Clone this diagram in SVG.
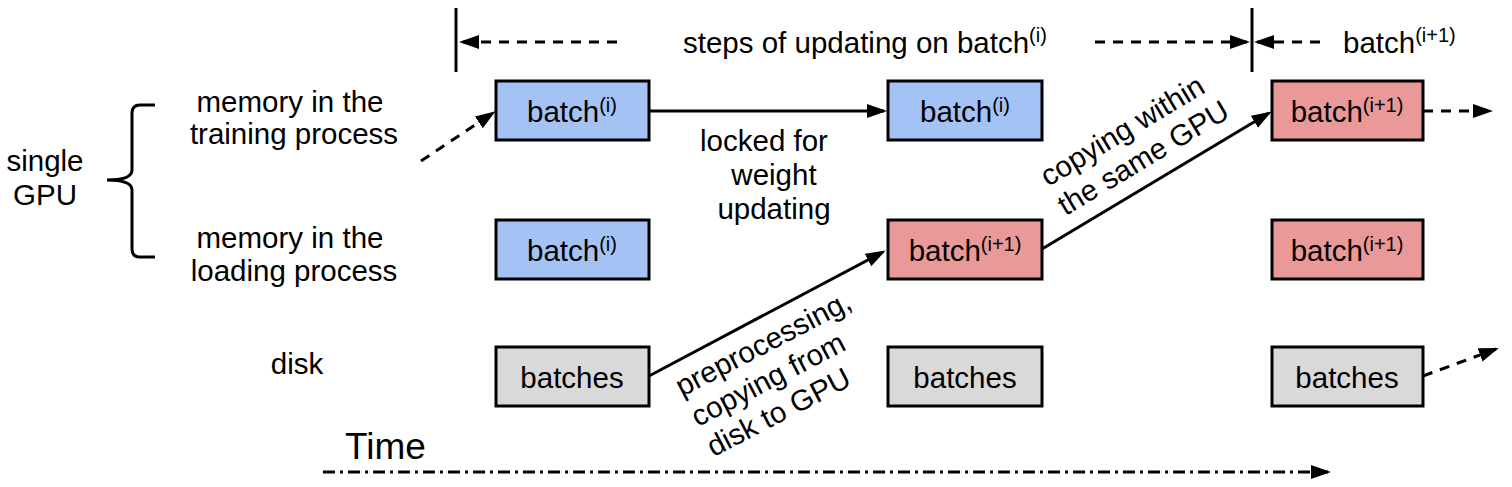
<svg xmlns="http://www.w3.org/2000/svg" width="1512" height="487" viewBox="0 0 1512 487">
<style>
text{font-family:"Liberation Sans",Arial,sans-serif;font-size:29.5px;fill:#000}
.mid{text-anchor:middle}
.sup{font-size:20px}
.box{stroke:#000;stroke-width:3}
.blue{fill:#a4c2f4}
.red{fill:#ea9999}
.gray{fill:#d9d9d9}
.ln{stroke:#000;stroke-width:3;fill:none}
.dash{stroke-dasharray:10 8}
.dd{stroke-dasharray:12 5 3 5}
</style>
<defs>
<marker id="ah" markerUnits="userSpaceOnUse" markerWidth="20" markerHeight="16" viewBox="0 0 20 16" refX="17" refY="8" orient="auto">
<path d="M0,1 L20,8 L0,15 z" fill="#000"/>
</marker>
</defs>
<rect width="1512" height="487" fill="#fff"/>

<g id="labels">
<text class="mid" x="45" y="171">single</text>
<text class="mid" x="45" y="205">GPU</text>
<path class="ln" d="M155,105 L140,105 Q132,105 132,113 L132,170 Q132,180 107,180 Q132,180 132,190 L132,249 Q132,257 140,257 L155,257"/>
<text class="mid" x="290" y="112">memory in the</text>
<text class="mid" x="294" y="144">training process</text>
<text class="mid" x="290" y="248">memory in the</text>
<text class="mid" x="294" y="281">loading process</text>
<text class="mid" x="297" y="374">disk</text>
<text x="345" y="459" style="font-size:37px">Time</text>
</g>

<g id="header">
<line class="ln" x1="456" y1="8" x2="456" y2="72"/>
<line class="ln" x1="1252" y1="8" x2="1252" y2="72"/>
<text x="683" y="53">steps of updating on batch<tspan class="sup" dy="-11">(i)</tspan></text>
<text x="1343" y="53">batch<tspan class="sup" dy="-11">(i+1)</tspan></text>
</g>

<g id="connectors">
<line class="ln dash" x1="617" y1="42" x2="462" y2="42" marker-end="url(#ah)"/>
<line class="ln dash" x1="1095" y1="42" x2="1247" y2="42" marker-end="url(#ah)"/>
<line class="ln dash" x1="1320" y1="42" x2="1257" y2="42" marker-end="url(#ah)"/>
<line class="ln dash" x1="421" y1="161" x2="493" y2="113" marker-end="url(#ah)"/>
<line class="ln" x1="649" y1="111" x2="884" y2="111" marker-end="url(#ah)"/>
<line class="ln" x1="649" y1="376" x2="883" y2="252" marker-end="url(#ah)"/>
<line class="ln" x1="1042" y1="249" x2="1269" y2="113" marker-end="url(#ah)"/>
<line class="ln dash" x1="1423" y1="111" x2="1490" y2="111" marker-end="url(#ah)"/>
<line class="ln dash" x1="1423" y1="376" x2="1496" y2="349" marker-end="url(#ah)"/>
<line class="ln dd" x1="323" y1="472" x2="1328" y2="472" marker-end="url(#ah)"/>
<text class="mid" x="764" y="151">locked for</text>
<text class="mid" x="774" y="185">weight</text>
<text class="mid" x="774" y="219">updating</text>
<g transform="translate(682,397) rotate(-27.5)">
<text x="0" y="0">preprocessing,</text>
<text x="0" y="34">copying from</text>
<text x="0" y="68">disk to GPU</text>
</g>
<g transform="translate(1048,187) rotate(-31)">
<text x="0" y="0">copying within</text>
<text x="0" y="34">the same GPU</text>
</g>
</g>

<g id="n1"><rect class="box blue" x="496" y="81" width="153" height="59"/><text class="mid" x="572" y="122">batch<tspan class="sup" dy="-10">(i)</tspan></text></g>
<g id="n2"><rect class="box blue" x="888" y="81" width="154" height="59"/><text class="mid" x="965" y="122">batch<tspan class="sup" dy="-10">(i)</tspan></text></g>
<g id="n3"><rect class="box red" x="1272" y="81" width="151" height="59"/><text class="mid" x="1347" y="122">batch<tspan class="sup" dy="-10">(i+1)</tspan></text></g>
<g id="n4"><rect class="box blue" x="496" y="220" width="153" height="59"/><text class="mid" x="572" y="261">batch<tspan class="sup" dy="-10">(i)</tspan></text></g>
<g id="n5"><rect class="box red" x="888" y="220" width="154" height="59"/><text class="mid" x="965" y="261">batch<tspan class="sup" dy="-10">(i+1)</tspan></text></g>
<g id="n6"><rect class="box red" x="1272" y="220" width="151" height="59"/><text class="mid" x="1347" y="261">batch<tspan class="sup" dy="-10">(i+1)</tspan></text></g>
<g id="n7"><rect class="box gray" x="496" y="347" width="153" height="59"/><text class="mid" x="572" y="388">batches</text></g>
<g id="n8"><rect class="box gray" x="888" y="347" width="154" height="59"/><text class="mid" x="965" y="388">batches</text></g>
<g id="n9"><rect class="box gray" x="1272" y="347" width="151" height="59"/><text class="mid" x="1347" y="388">batches</text></g>
</svg>
